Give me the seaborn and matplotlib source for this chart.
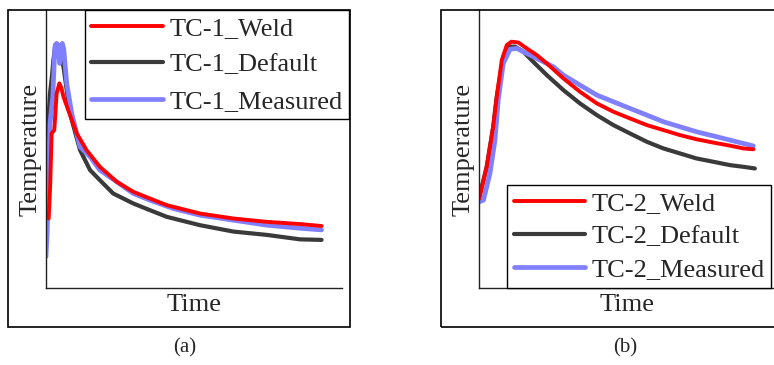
import matplotlib
matplotlib.use("Agg")
import matplotlib.pyplot as plt
from matplotlib.patches import Rectangle
import seaborn as sns

# --- DATA (arbitrary units) ---
# panel (a): TC-1
t1_weld = [0.9, 1.4, 1.9, 2.8, 3.6, 4.5, 5.2, 5.9, 7.5, 10.4, 13.7, 18.2, 23.9, 29.5, 35.1, 40.8, 52.0, 63.3, 74.6, 85.8, 93.1]
T1_weld = [250, 364, 556, 568, 700, 736, 720, 688, 640, 556, 496, 436, 382, 346, 322, 298, 268, 250, 238, 230, 223]

t1_default = [0.0, 0.3, 0.8, 1.35, 2.0, 2.5, 3.2, 4.0, 5.0, 5.9, 8.1, 11.5, 14.9, 18.2, 22.7, 29.5, 35.1, 40.8, 52.0, 63.3, 74.6, 85.8, 93.1]
T1_default = [250, 388, 600, 700, 760, 820, 876, 876, 830, 796, 628, 496, 424, 388, 340, 304, 280, 256, 226, 203, 191, 175, 173]

t1_measured = [0.0, 0.4, 0.9, 1.35, 2.3, 3.0, 3.6, 4.2, 4.6, 5.0, 5.5, 6.0, 7.0, 8.7, 11.5, 14.9, 18.2, 23.9, 29.5, 35.1, 43.0, 52.0, 63.3, 74.6, 85.8, 93.1]
T1_measured = [113, 200, 440, 592, 688, 868, 880, 860, 808, 860, 880, 860, 736, 628, 508, 472, 424, 382, 340, 316, 286, 262, 244, 226, 215, 209]

# panel (b): TC-2
t2_weld = [0.1, 2.6, 4.8, 6.0, 7.7, 9.4, 11.0, 13.3, 16.1, 19.5, 22.9, 28.5, 34.1, 39.8, 45.4, 51.0, 56.7, 62.3, 67.9, 73.5, 79.2, 84.8, 89.3, 92.7]
T2_weld = [322, 436, 580, 688, 820, 874, 886, 883, 862, 838, 808, 754, 706, 664, 634, 610, 586, 568, 550, 535, 523, 512, 502, 499]

t2_default = [0.1, 2.6, 4.8, 6.0, 8.2, 10.5, 12.2, 15.0, 18.3, 22.9, 28.5, 34.1, 39.8, 45.4, 51.0, 56.7, 62.3, 67.9, 73.5, 79.2, 84.8, 89.3, 93.2]
T2_default = [328, 436, 580, 688, 832, 868, 868, 850, 814, 766, 712, 664, 622, 586, 556, 526, 502, 484, 466, 454, 442, 436, 430]

t2_measured = [0.1, 1.5, 3.7, 5.4, 6.5, 8.2, 10.5, 12.7, 16.1, 20.6, 25.1, 28.5, 34.1, 39.8, 45.4, 51.0, 56.7, 62.3, 67.9, 73.5, 79.2, 84.8, 89.3, 92.7]
T2_measured = [310, 316, 412, 532, 676, 808, 859, 862, 844, 820, 796, 766, 730, 694, 670, 646, 622, 598, 580, 562, 547, 532, 520, 511]

panels = [
    ("TC-1", "(a)", t1_weld, T1_weld, t1_default, T1_default, t1_measured, T1_measured),
    ("TC-2", "(b)", t2_weld, T2_weld, t2_default, T2_default, t2_measured, T2_measured),
]

RED = "#ff0000"
DARK = "#3a3a3a"
BLUE = "#8080ff"

sns.set_style("white")
plt.rcParams["font.family"] = ["Liberation Serif", "DejaVu Serif"]

W, H = 774, 365
fig = plt.figure(figsize=(W / 100, H / 100), dpi=100)

# pixel layout of each panel
layout = [
    dict(ax_left=46, box_left=8, box_right=350, leg_xy=(349, 10), leg_loc="upper right",
         spacing=0.49, lab_x=185),
    dict(ax_left=479, box_left=441, box_right=812, leg_xy=(507, 288), leg_loc="lower left",
         spacing=0.36, lab_x=625),
]

for (name, tag, tw, Tw, td, Td, tm, Tm), lay in zip(panels, layout):
    ax = fig.add_axes([lay["ax_left"] / W, (H - 288) / H, 296 / W, 278 / H])
    # draw order: default, measured, weld on top
    sns.lineplot(x=td, y=Td, ax=ax, color=DARK, lw=3.0, label=f"{name}_Default", sort=False)
    sns.lineplot(x=tm, y=Tm, ax=ax, color=BLUE, lw=3.4, label=f"{name}_Measured", sort=False)
    sns.lineplot(x=tw, y=Tw, ax=ax, color=RED, lw=2.8, label=f"{name}_Weld", sort=False)

    ax.set_xlim(0, 100)
    ax.set_ylim(0, 1000)
    ax.set_xticks([])
    ax.set_yticks([])
    for s in ["top", "right"]:
        ax.spines[s].set_visible(False)
    for s in ["left", "bottom"]:
        ax.spines[s].set_color("#222222")
        ax.spines[s].set_linewidth(1.0)
    ax.set_xlabel("Time", fontsize=19, labelpad=4)
    ax.set_ylabel("Temperature", fontsize=19, labelpad=3)

    handles, labels = ax.get_legend_handles_labels()
    order = [2, 0, 1]
    leg = ax.legend(
        [handles[i] for i in order], [labels[i] for i in order],
        loc=lay["leg_loc"],
        bbox_to_anchor=(lay["leg_xy"][0] / W, 1 - lay["leg_xy"][1] / H),
        bbox_transform=fig.transFigure,
        borderaxespad=0, fontsize=19, handlelength=2.7, handletextpad=0.25,
        labelspacing=lay["spacing"], borderpad=0.25, fancybox=False, framealpha=1,
    )
    leg.get_frame().set_edgecolor("black")
    leg.get_frame().set_linewidth(1.0)

    # outer panel frame
    fig.add_artist(Rectangle(
        (lay["box_left"] / W, (H - 327) / H),
        (lay["box_right"] - lay["box_left"]) / W, (327 - 10) / H,
        transform=fig.transFigure, fill=False, edgecolor="black", lw=1.2,
    ))
    fig.text(lay["lab_x"] / W, 1 - 348 / H, tag, ha="center", va="center", fontsize=15)

fig.savefig("out.png", dpi=100)
